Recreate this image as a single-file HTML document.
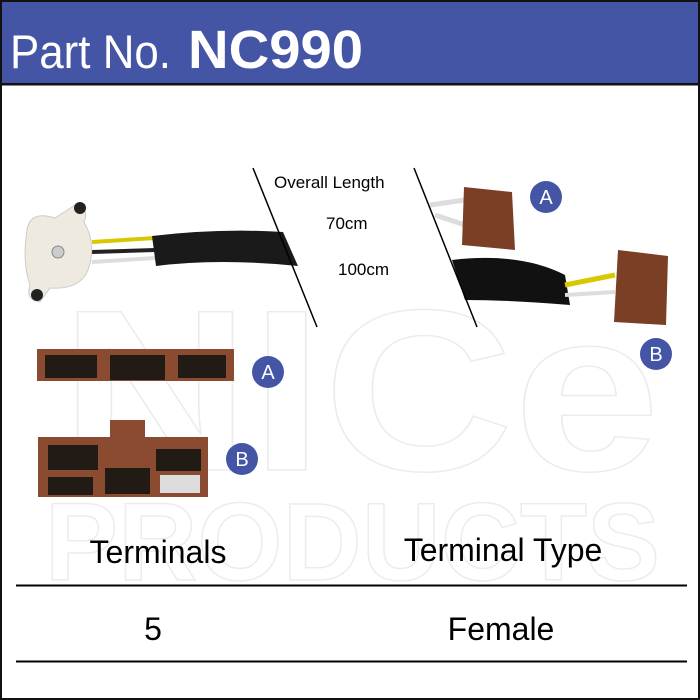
<!DOCTYPE html>
<html><head><meta charset="utf-8"><style>
html,body{margin:0;padding:0;background:#fff}
svg{display:block}
text{font-family:"Liberation Sans",Arial,sans-serif}
</style></head><body>
<svg width="700" height="700" viewBox="0 0 700 700" xmlns="http://www.w3.org/2000/svg">
<rect x="0" y="0" width="700" height="700" fill="#fff"/>
<!-- watermark -->
<g fill="#fff" stroke="#ececec" stroke-width="1.5">
<text x="60" y="470" font-size="230" font-weight="bold" textLength="600" lengthAdjust="spacingAndGlyphs">NICe</text>
<text x="45" y="580" font-size="110" font-weight="bold" textLength="615" lengthAdjust="spacingAndGlyphs">PRODUCTS</text>
</g>
<!-- header -->
<rect x="0" y="0" width="700" height="85" fill="#4555a5"/>
<rect x="0" y="83" width="700" height="2.5" fill="#111"/>
<text x="10" y="68" font-size="47" fill="#fff" textLength="161" lengthAdjust="spacingAndGlyphs">Part No.</text>
<text x="188" y="68" font-size="54" font-weight="bold" fill="#fff" textLength="175" lengthAdjust="spacingAndGlyphs">NC990</text>
<rect x="1" y="1" width="698" height="698" fill="none" stroke="#111" stroke-width="2"/>
<!-- switch + harness -->
<path d="M92 242 L155 238" stroke="#d8c800" stroke-width="4"/>
<path d="M92 252 L155 250" stroke="#222" stroke-width="4"/>
<path d="M92 262 L155 258" stroke="#ddd" stroke-width="4"/>
<path d="M152 236 Q220 228 283 232 L298 266 Q220 258 156 266 Z" fill="#1a1a1a"/>
<path d="M27 230 Q30 210 55 218 L75 205 Q90 208 84 222 Q97 245 88 270 Q80 290 50 288 L40 302 Q25 300 30 285 Q22 262 27 230 Z" fill="#eeeae0" stroke="#ccc"/>
<circle cx="37" cy="295" r="6" fill="#222"/><circle cx="80" cy="208" r="6" fill="#222"/>
<circle cx="58" cy="252" r="6" fill="#ccc" stroke="#888"/>
<path d="M452 260 Q520 252 565 275 L570 305 Q510 300 465 300 Z" fill="#111"/>
<path d="M565 285 L615 275" stroke="#d8c800" stroke-width="5"/>
<path d="M565 295 L615 292" stroke="#ddd" stroke-width="4"/>
<path d="M430 205 L465 200 M435 215 L465 225" stroke="#ddd" stroke-width="5"/>
<path d="M464 187 L512 192 L515 250 L462 245 Z" fill="#7a3f25"/>
<path d="M618 250 L668 256 L666 325 L614 322 Z" fill="#7a3f25"/>
<!-- length lines -->
<line x1="253" y1="168" x2="317" y2="327" stroke="#000" stroke-width="1.5"/>
<line x1="414" y1="168" x2="477" y2="327" stroke="#000" stroke-width="1.5"/>
<rect x="268" y="170" width="145" height="110" fill="#fff" opacity="0"/>
<text x="274" y="188" font-size="17">Overall Length</text>
<text x="326" y="229" font-size="17">70cm</text>
<text x="338" y="275" font-size="17">100cm</text>
<!-- connector A -->
<rect x="37" y="349" width="197" height="32" fill="#8a4b30"/>
<rect x="45" y="355" width="52" height="23" fill="#221a14"/>
<rect x="110" y="355" width="55" height="25" fill="#221a14"/>
<rect x="178" y="355" width="48" height="23" fill="#221a14"/>
<!-- connector B -->
<rect x="38" y="437" width="170" height="60" fill="#8a4b30"/>
<rect x="110" y="420" width="35" height="30" fill="#8a4b30"/>
<rect x="48" y="445" width="50" height="25" fill="#221a14"/>
<rect x="156" y="449" width="45" height="22" fill="#221a14"/>
<rect x="48" y="477" width="45" height="18" fill="#221a14"/>
<rect x="105" y="468" width="45" height="26" fill="#221a14"/>
<rect x="160" y="475" width="40" height="18" fill="#ddd"/>
<!-- badges -->
<g fill="#4555a5"><circle cx="546" cy="197" r="16"/><circle cx="656" cy="354" r="16"/><circle cx="268" cy="372" r="16"/><circle cx="242" cy="459" r="16"/></g>
<g fill="#fff" font-size="20" text-anchor="middle">
<text x="546" y="204">A</text><text x="656" y="361">B</text><text x="268" y="379">A</text><text x="242" y="466">B</text></g>
<!-- table -->
<text x="158" y="563" font-size="32" text-anchor="middle">Terminals</text>
<text x="503" y="561" font-size="32" text-anchor="middle">Terminal Type</text>
<rect x="16" y="584.5" width="671" height="2" fill="#000"/>
<text x="153" y="640" font-size="32" text-anchor="middle">5</text>
<text x="501" y="640" font-size="32" text-anchor="middle">Female</text>
<rect x="16" y="660.5" width="671" height="2" fill="#000"/>
</svg>
</body></html>
